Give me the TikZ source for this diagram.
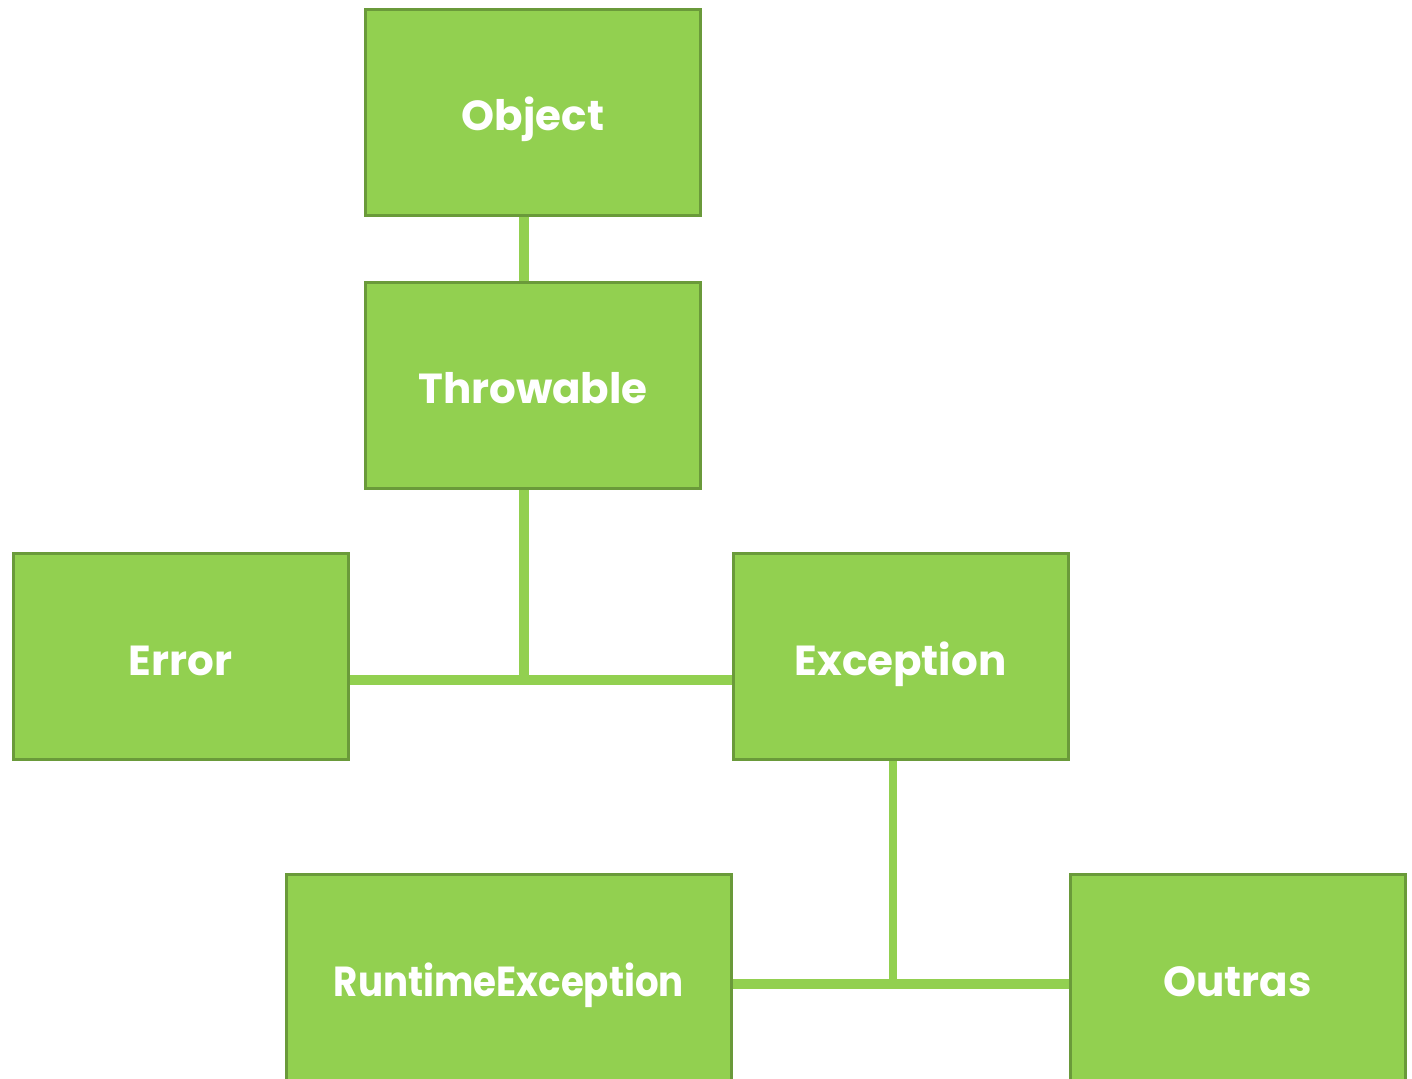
\documentclass[tikz,border=0pt]{standalone}
\usepackage{fontspec}
\setmainfont{Poppins}
\usetikzlibrary{backgrounds}

\definecolor{boxgreen}{HTML}{92D050}
\definecolor{edgegreen}{HTML}{6A9A3A}

\tikzset{
  classbox/.style={draw=edgegreen, fill=boxgreen, line width=3pt,
    minimum width=335pt, minimum height=206pt, inner sep=0pt,
    text height=37pt, text depth=0pt,
    text=white, font=\fontsize{42}{50}\selectfont\bfseries},
  link/.style={draw=boxgreen, line width=10pt}
}

\begin{document}
\begin{tikzpicture}[x=1pt, y=-1pt]
    % Page frame
    \useasboundingbox (0,0) rectangle (1412,1078);

    % Classes
    \node[classbox] (obj) at (533,112.5) {Object};
    \node[classbox] (thr) at (533,385) {Throwable};
    \node[classbox] (err) at (180.5,656.5) {Error};
    \node[classbox] (exc) at (900.5,656.5) {Exception};
    \node[classbox, minimum width=445pt] (rte) at (509,977.5)
        {\scalebox{0.885}[1]{RuntimeException}};
    \node[classbox] (out) at (1237.5,977.5) {Outras};

    % Joints
    \coordinate (j1) at (524,680);
    \coordinate (j2) at (893,984);

    \begin{pgfonlayer}{background}
    % Object - Throwable
    \draw[link] (obj.south -| j1) -- (thr.north -| j1);

    % Throwable - Error / Exception
    \draw[link] (thr.south -| j1) -- (j1);
    \draw[link] (err.east |- j1) -- (exc.west |- j1);

    % Exception - RuntimeException / Outras
    \draw[link, line width=8pt] (exc.south -| j2) -- (j2);
    \draw[link] (rte.east |- j2) -- (out.west |- j2);
    \end{pgfonlayer}
\end{tikzpicture}
\end{document}
